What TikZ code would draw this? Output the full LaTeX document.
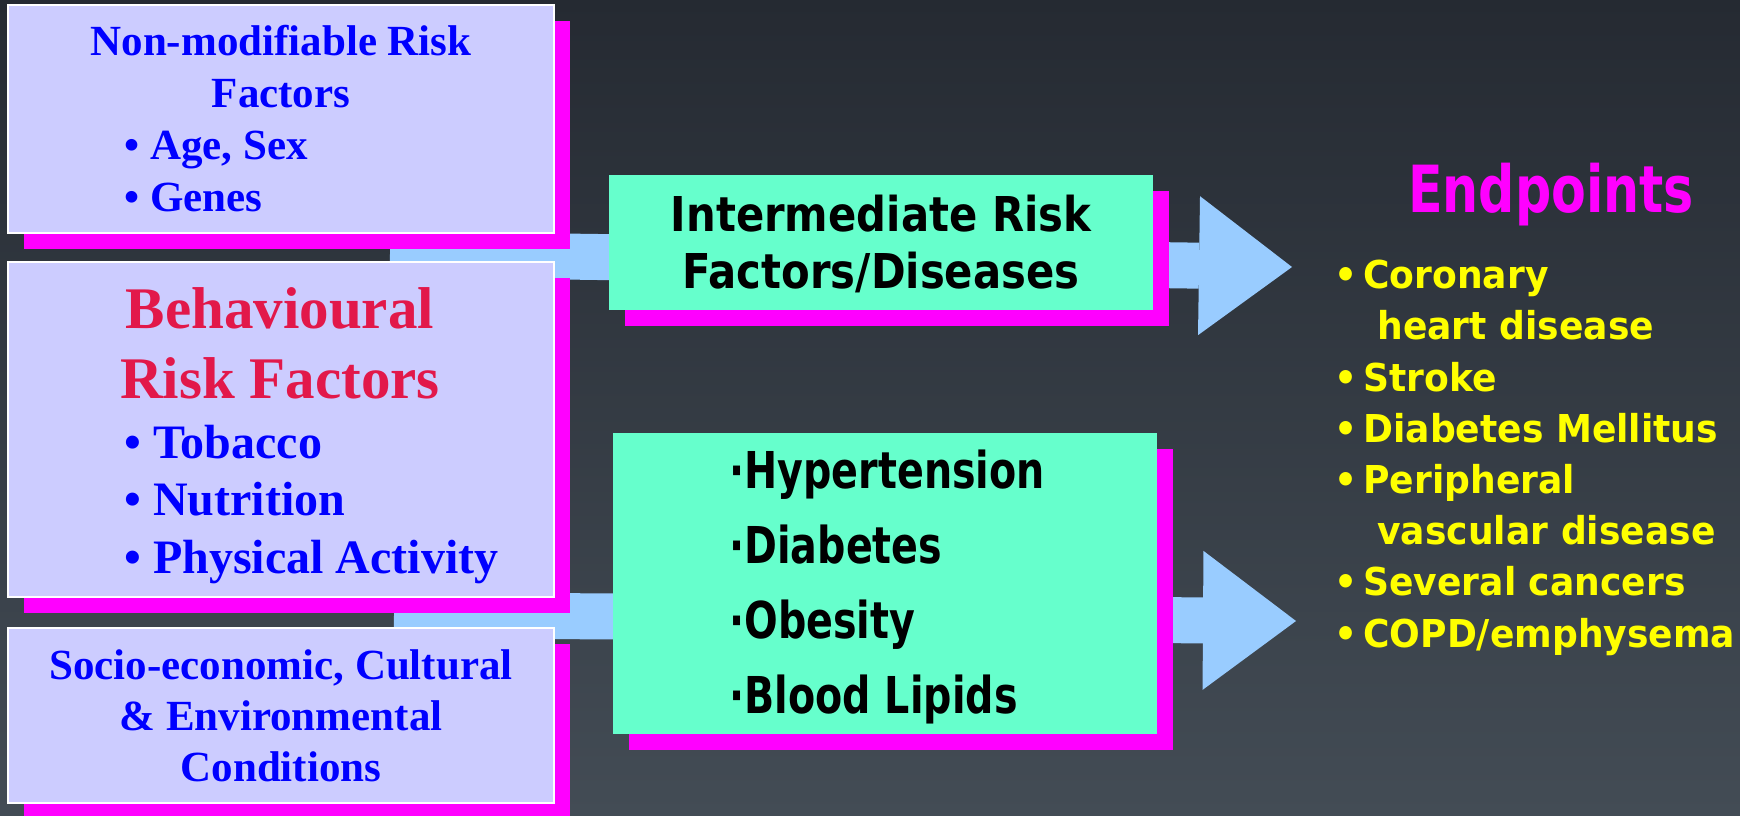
\documentclass[tikz,border=0pt]{standalone}
\usepackage{fontspec}
\setmainfont{Liberation Serif}
\newfontfamily\riskfont{Liberation Serif}
\newfontfamily\midfont[FakeStretch=0.87]{DejaVu Sans}
\newfontfamily\narrowfont[FakeStretch=0.78]{DejaVu Sans}
\newfontfamily\endlistfont[FakeStretch=0.94]{DejaVu Sans}
\usepackage{tikz}
\usetikzlibrary{shadows}
\usetikzlibrary{arrows.meta}
\usetikzlibrary{backgrounds}

\definecolor{bgtop}{HTML}{252A32}
\definecolor{bgbottom}{HTML}{434C55}
\definecolor{riskfill}{HTML}{CCCCFF}
\definecolor{midfill}{HTML}{66FFCC}
\definecolor{pinkshadow}{HTML}{FF00FF}
\definecolor{arrowfill}{HTML}{99CCFF}
\definecolor{behavred}{HTML}{E2184A}
\definecolor{riskblue}{HTML}{0000FF}
\definecolor{endyellow}{HTML}{FFFF00}

\newcommand{\ebul}{\makebox[14.5pt][l]{•}}

\begin{document}
\begin{tikzpicture}[
        x=0.5pt, y=-0.5pt,
        riskbox/.style={rectangle, draw=white, line width=1pt, fill=riskfill, inner sep=0pt, minimum width=272.8pt,
            drop shadow={shadow xshift=8pt, shadow yshift=-8pt, fill=pinkshadow, opacity=1}},
        midbox/.style={rectangle, fill=midfill, inner sep=0pt, minimum width=272pt,
            drop shadow={shadow xshift=8pt, shadow yshift=-8pt, fill=pinkshadow, opacity=1}},
        bigarrow/.style={draw=arrowfill, line width=23pt, -{Triangle[length=46.5pt, width=69.5pt, line width=0pt]}},
        risktext/.style={inner sep=0pt, text=riskblue},
        midtext/.style={inner sep=0pt, text=black},
        endtext/.style={inner sep=0pt, text=endyellow, align=left}
    ]

    \useasboundingbox (0,0) rectangle (1740,815);

    % --- 1. BACKGROUND AND BLOCK ARROWS ---
    \coordinate (upstart) at (390,254);
    \coordinate (uptip) at (1292,267);
    \coordinate (lowstart) at (394,615);
    \coordinate (lowtip) at (1296,621);

    \begin{scope}[on background layer]
        \fill[top color=bgtop, bottom color=bgbottom] (0,0) rectangle (1740,815);
        \draw[bigarrow] (upstart) -- (uptip);
        \draw[bigarrow] (lowstart) -- (lowtip);
    \end{scope}

    % --- 2. RISK FACTOR BOXES (left) ---
    % (text nodes are placed at the baseline of their last line)
    \node[riskbox, minimum height=114pt] (nonmod) at (281,119) {};
    \node[riskbox, minimum height=167.5pt] (behav) at (281,429.5) {};
    \node[riskbox, minimum height=87.5pt] (socio) at (281,715.5) {};

    \node[risktext, anchor=base, align=center, font={\riskfont\bfseries\fontsize{21.5}{25.7}\selectfont}]
        (nonmodhead) at (281,107) {Non-modifiable Risk\\Factors};
    \node[risktext, anchor=base west, align=left, font={\riskfont\bfseries\fontsize{21.5}{25.7}\selectfont}]
        (nonmodlist) at (124,211) {• Age, Sex\\• Genes};

    \node[risktext, text=behavred, anchor=base, align=center, font={\riskfont\bfseries\fontsize{29.5}{35}\selectfont}]
        (behavhead) at (280,398) {Behavioural\\Risk Factors};
    \node[risktext, anchor=base west, align=left, font={\riskfont\bfseries\fontsize{24}{28.75}\selectfont}]
        (behavlist) at (124,573) {• Tobacco\\• Nutrition\\• Physical Activity};

    \node[risktext, anchor=base, align=center, font={\riskfont\bfseries\fontsize{21.5}{25.5}\selectfont}]
        (sociohead) at (281,781) {Socio-economic, Cultural\\\& Environmental\\Conditions};

    % --- 3. INTERMEDIATE BOXES ---
    \node[midbox, minimum height=67.5pt] (inter) at (881,242.5) {};
    \node[midbox, minimum height=150.5pt] (diseases) at (885,583.5) {};

    \node[midtext, anchor=base, align=center, font={\midfont\bfseries\fontsize{24}{28.5}\selectfont}]
        (intertext) at (881,288) {Intermediate Risk\\Factors/Diseases};
    \node[midtext, anchor=base west, align=left, font={\narrowfont\bfseries\fontsize{25.4}{37.5}\selectfont}]
        (diseasetext) at (729,713) {·Hypertension\\·Diabetes\\·Obesity\\·Blood Lipids};

    % --- 4. ENDPOINTS ---
    \node[inner sep=0pt, anchor=base, text=pinkshadow, font={\narrowfont\bfseries\fontsize{32.5}{38}\selectfont}]
        (endtitle) at (1551,212) {Endpoints};
    \node[endtext, anchor=base west, font={\endlistfont\bfseries\fontsize{19.2}{25.6}\selectfont}]
        (endlist) at (1334,647) {\ebul Coronary\\
        \hspace*{21.5pt}heart disease\\
        \ebul Stroke\\
        \ebul Diabetes Mellitus\\
        \ebul Peripheral\\
        \hspace*{21.5pt}vascular disease\\
        \ebul Several cancers\\
        \ebul COPD/emphysema};

\end{tikzpicture}
\end{document}
